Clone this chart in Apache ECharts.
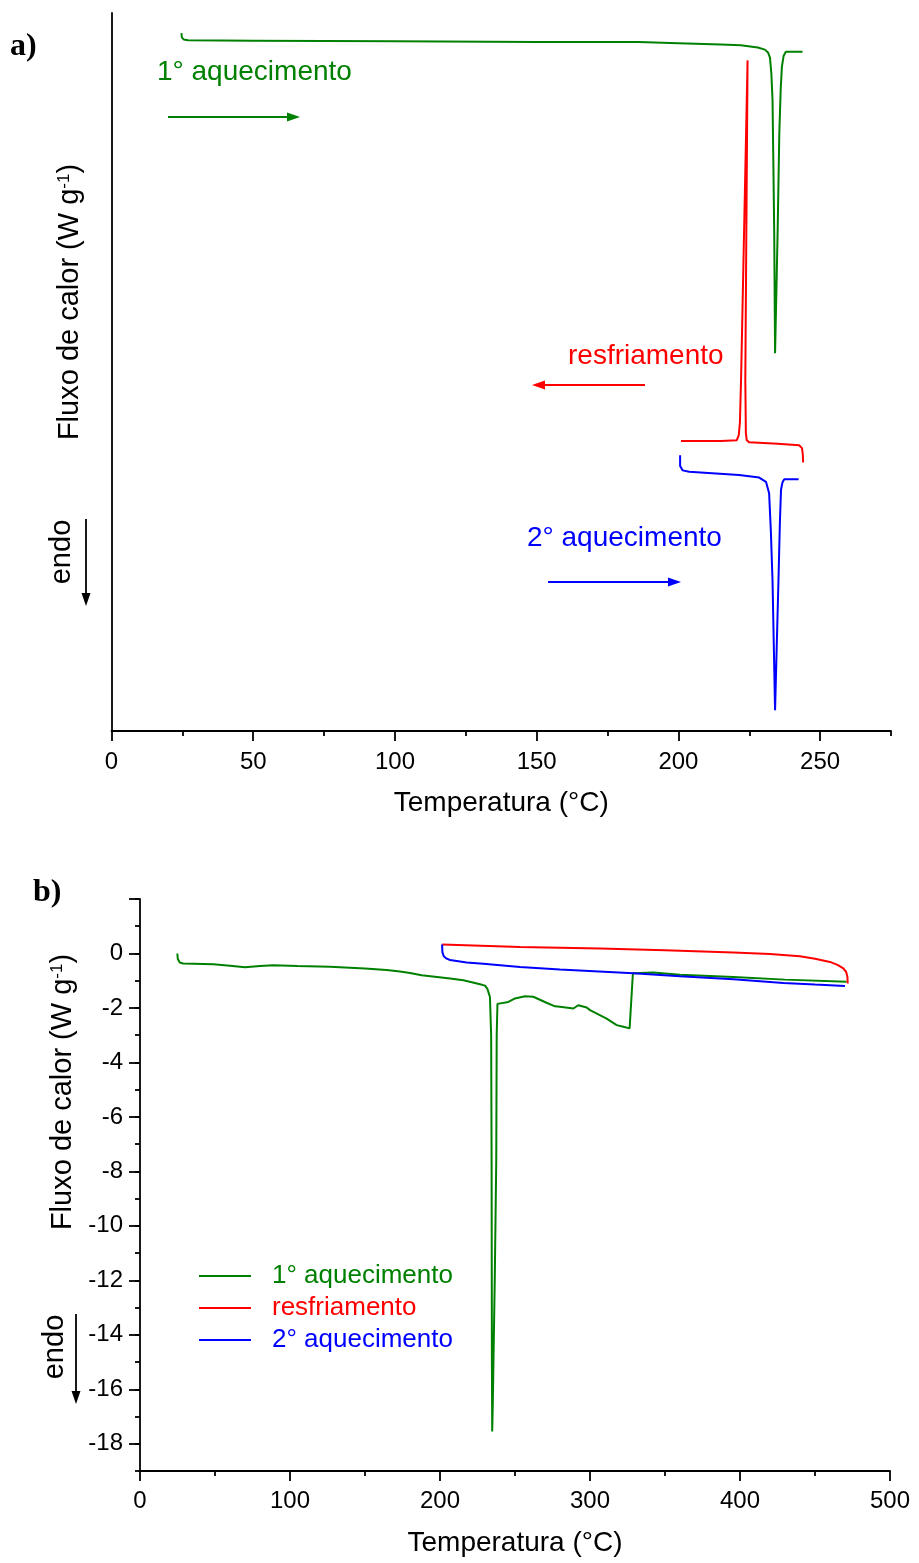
<!DOCTYPE html>
<html><head><meta charset="utf-8">
<script src="https://cdn.jsdelivr.net/npm/echarts@6/dist/echarts.min.js"></script>
<style>html,body{margin:0;padding:0;background:#fff}#c{width:919px;height:1563px}</style>
</head><body><div id="c"></div>
<script>
// ---------- data ----------
const seriesNames = ['1° aquecimento', 'resfriamento', '2° aquecimento'];
const seriesColors = ['#008000', '#ff0000', '#0000ff'];

// panel a) : temperature (°C), heat flow (arbitrary, offset curves)
const heat1A = [[24.7,97.2],[24.8,96.6],[25.5,96.3],[27,96.2],[50,96.15],[100,96.05],[150,95.95],[186,95.95],[200,95.8],[215,95.6],[222,95.5],[228,95.2],[230.5,94.9],[231.6,94.5],[232.3,93.8],[232.8,91.5],[233.2,87.9],[233.5,79],[233.8,69.4],[234.1,52.6],[234.5,60],[235.0,69.4],[235.6,83.3],[236.1,89.5],[236.5,92.5],[237.1,94.0],[237.9,94.6],[243.8,94.6]];
const coolA = [[244.0,37.4],[243.9,38.5],[243.6,39.4],[242.6,39.8],[235,40.0],[225.0,40.2],[224.1,40.5],[223.8,41.5],[223.6,48.9],[224.4,93.4],[222.1,48.9],[221.7,43],[221.3,41.2],[220.6,40.5],[215,40.4],[200.9,40.4]];
const heat2A = [[200.6,38.4],[200.6,36.9],[201.5,36.3],[203.8,36.1],[221.4,35.65],[228.5,35.3],[230.9,34.7],[232.0,33.1],[232.6,28],[233.2,21.0],[233.7,11],[234.1,2.9],[234.7,12],[235.3,21.0],[235.8,29],[236.2,33.6],[236.7,34.6],[237.3,35.05],[242.4,35.05]];

// panel b) : temperature (°C), heat flow (W/g)
const heat1B = [[24.9,0.0],[25.2,-0.2],[26.5,-0.33],[28.7,-0.37],[48.9,-0.40],[60,-0.45],[70,-0.51],[80,-0.46],[88.9,-0.43],[105,-0.46],[126.7,-0.49],[150,-0.55],[164.4,-0.61],[173.3,-0.66],[180,-0.72],[187.8,-0.80],[206.7,-0.92],[215.6,-0.98],[226.7,-1.13],[230,-1.18],[231.6,-1.30],[233.3,-1.6],[234.1,-3],[234.4,-7.6],[234.6,-15],[234.8,-17.55],[235.2,-16.5],[236.5,-12],[237.5,-7.6],[237.8,-3],[238.3,-1.85],[239.5,-1.78],[245.6,-1.78],[250,-1.65],[256.7,-1.57],[262.2,-1.59],[271,-1.81],[276.7,-1.94],[280,-1.96],[288.9,-2.02],[292.2,-1.90],[297.8,-1.98],[300,-2.08],[311.1,-2.39],[317.8,-2.63],[322.2,-2.69],[326.4,-2.75],[328.6,-0.73],[342.2,-0.70],[360,-0.78],[395.6,-0.86],[430,-0.96],[471,-1.04]];
const coolB = [[471.8,-1.10],[471.6,-0.85],[470.8,-0.68],[468.9,-0.55],[465,-0.42],[460,-0.31],[450,-0.19],[440,-0.10],[420,-0.02],[395.6,0.04],[350,0.12],[306.7,0.18],[253.3,0.24],[201.4,0.33]];
const heat2B = [[201.4,0.33],[201.6,0.05],[202.5,-0.10],[204.5,-0.19],[206.7,-0.24],[217.8,-0.33],[228.9,-0.38],[253.3,-0.50],[280,-0.59],[328.9,-0.73],[360,-0.84],[395.6,-0.95],[428.9,-1.08],[450,-1.14],[470,-1.19]];

// ticks
const aXMajor = [0,50,100,150,200,250];
const aXMinor = [25,75,125,175,225,275];
const bYLabels = [-18,-16,-14,-12,-10,-8,-6,-4,-2,0];
const bYMajor = [-18,-16,-14,-12,-10,-8,-6,-4,-2,0,2];

// ---------- chart ----------
const FONT = "'Liberation Sans', Arial, sans-serif";
const chart = echarts.init(document.getElementById('c'), null, {renderer: 'canvas'});
const axisLineStyle = {color: '#000', width: 1.8};
const labelStyle = {color: '#000', fontSize: 24, fontFamily: FONT};
const titleStyle = {color: '#000', fontSize: 28, fontFamily: FONT};

function mkSeries(name, data, color, xi, yi) {
  return {name, type: 'line', data, xAxisIndex: xi, yAxisIndex: yi, symbol: 'none', showSymbol: false,
    lineStyle: {color, width: 2}, itemStyle: {color}, animation: false, clip: false};
}

function arrow(x1, y1, x2, y2, color) {
  const dx = x2 - x1, dy = y2 - y1, L = Math.hypot(dx, dy), ux = dx / L, uy = dy / L;
  const hl = 13, hw = 4.5;
  const bx = x2 - ux * hl, by = y2 - uy * hl;
  return [
    {type: 'line', shape: {x1, y1, x2: bx, y2: by}, style: {stroke: color, lineWidth: 1.8}},
    {type: 'polygon', shape: {points: [[x2, y2], [bx - uy * hw, by + ux * hw], [bx + uy * hw, by - ux * hw]]}, style: {fill: color}}
  ];
}
function txt(text, x, y, color, size, opts) {
  return Object.assign({type: 'text', x, y, style: Object.assign({text, fill: color, fontSize: size, fontFamily: FONT, textAlign: 'left', textVerticalAlign: 'middle'}, (opts && opts.style) || {})}, (opts && opts.el) || {});
}
function yTitle(x, y) {
  return {type: 'text', x, y, rotation: Math.PI / 2, style: {
    text: '{a|Fluxo de calor (W g}{s|-1}{a|)}', textAlign: 'center', textVerticalAlign: 'middle',
    rich: {a: {fontSize: 29, fontFamily: FONT, fill: '#000', verticalAlign: 'bottom'}, s: {fontSize: 17, fontFamily: FONT, fill: '#000', verticalAlign: 'top'}}
  }};
}

const SERIF = "'Liberation Serif', 'Times New Roman', serif";
const graphics = [
  txt('a)', 10, 47, '#000', 32, {style: {fontFamily: SERIF, fontWeight: 'bold'}}),
  txt('b)', 33, 893, '#000', 32, {style: {fontFamily: SERIF, fontWeight: 'bold'}}),
  yTitle(70, 302),
  yTitle(63, 1092),
  txt('1° aquecimento', 157, 72, seriesColors[0], 28),
  ...arrow(168, 117, 300, 117, seriesColors[0]),
  txt('resfriamento', 568, 356, seriesColors[1], 28),
  ...arrow(645, 385, 532, 385, seriesColors[1]),
  txt('2° aquecimento', 527, 538, seriesColors[2], 28),
  ...arrow(548, 582, 681, 582, seriesColors[2]),
  txt('endo', 62, 552, '#000', 29, {style: {textAlign: 'center'}, el: {rotation: Math.PI / 2}}),
  ...arrow(86, 519, 86, 606, '#000'),
  txt('endo', 55, 1347, '#000', 29, {style: {textAlign: 'center'}, el: {rotation: Math.PI / 2}}),
  ...arrow(76, 1314, 76, 1404, '#000')
];

const option = {
  backgroundColor: '#fff',
  animation: false,
  grid: [
    {left: 111.5, top: 13, width: 779.5, height: 718},
    {left: 140, top: 899, width: 750, height: 572}
  ],
  xAxis: [
    {gridIndex: 0, type: 'value', min: 0, max: 275, position: 'bottom',
     axisLine: {onZero: false, lineStyle: axisLineStyle}, axisTick: {customValues: aXMajor, length: 10, lineStyle: axisLineStyle},
     axisLabel: Object.assign({customValues: aXMajor, margin: 19}, labelStyle), splitLine: {show: false},
     name: 'Temperatura (°C)', nameLocation: 'middle', nameGap: 58, nameTextStyle: titleStyle},
    {gridIndex: 0, type: 'value', min: 0, max: 275, position: 'bottom',
     axisLine: {show: false, onZero: false}, axisTick: {customValues: aXMinor, length: 5, lineStyle: axisLineStyle},
     axisLabel: {show: false}, splitLine: {show: false}},
    {gridIndex: 1, type: 'value', min: 0, max: 500, interval: 100, position: 'bottom',
     axisLine: {onZero: false, lineStyle: axisLineStyle}, axisTick: {length: 10, lineStyle: axisLineStyle},
     minorTick: {show: true, splitNumber: 2, length: 5, lineStyle: axisLineStyle},
     axisLabel: Object.assign({margin: 18}, labelStyle), splitLine: {show: false},
     name: 'Temperatura (°C)', nameLocation: 'middle', nameGap: 58, nameTextStyle: titleStyle}
  ],
  yAxis: [
    {gridIndex: 0, type: 'value', min: 0, max: 100, position: 'left',
     axisLine: {show: true, onZero: false, lineStyle: axisLineStyle}, axisTick: {show: false}, axisLabel: {show: false}, splitLine: {show: false}},
    {gridIndex: 1, type: 'value', min: -19, max: 2, position: 'left',
     axisLine: {show: true, onZero: false, lineStyle: axisLineStyle}, axisTick: {customValues: bYMajor, length: 11, lineStyle: axisLineStyle},
     axisLabel: Object.assign({customValues: bYLabels, margin: 17}, labelStyle), splitLine: {show: false}},
    {gridIndex: 1, type: 'value', min: -19, max: 2, interval: 1, position: 'left',
     axisLine: {show: false, onZero: false}, axisTick: {length: 5, lineStyle: axisLineStyle}, axisLabel: {show: false}, splitLine: {show: false}}
  ],
  legend: {
    orient: 'vertical', left: 194, top: 1258, itemWidth: 52, itemHeight: 2, itemGap: 6, icon: 'rect',
    selectedMode: false,
    data: seriesNames.map((n, i) => ({name: n, textStyle: {color: seriesColors[i]}})),
    textStyle: {fontSize: 26, fontFamily: FONT, padding: [0, 0, 0, 16]}
  },
  series: [
    mkSeries(seriesNames[0], heat1A, seriesColors[0], 0, 0),
    mkSeries(seriesNames[1], coolA, seriesColors[1], 0, 0),
    mkSeries(seriesNames[2], heat2A, seriesColors[2], 0, 0),
    mkSeries(seriesNames[0], heat1B, seriesColors[0], 2, 1),
    mkSeries(seriesNames[1], coolB, seriesColors[1], 2, 1),
    mkSeries(seriesNames[2], heat2B, seriesColors[2], 2, 1)
  ],
  graphic: graphics
};
chart.setOption(option);
</script>
</body></html>
